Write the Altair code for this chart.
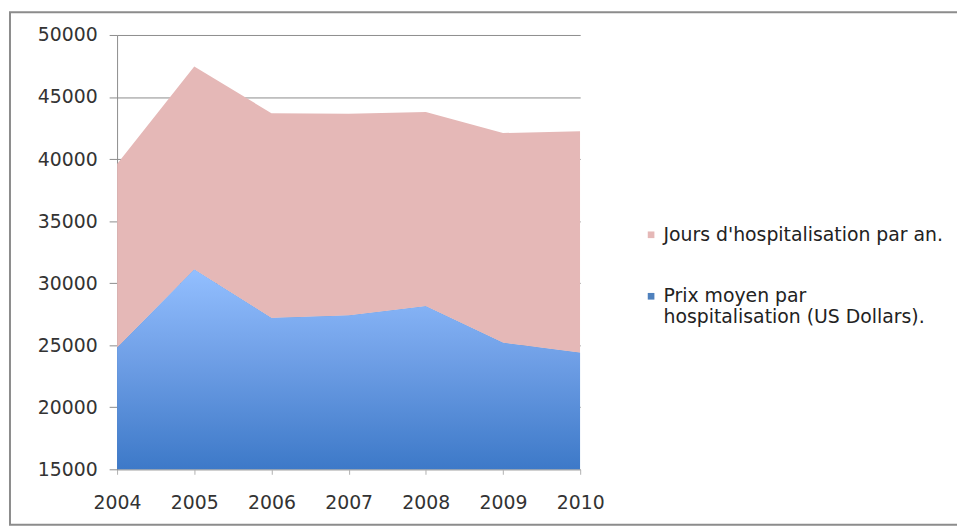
import json
import altair as alt
import pandas as pd

YEARS = [2004, 2005, 2006, 2007, 2008, 2009, 2010]
PRIX = [24800, 31100, 27200, 27400, 28150, 25200, 24400]
JOURS = [14800, 16350, 16500, 16250, 15650, 16900, 17850]
SERIES = ["Jours d'hospitalisation par an.", "Prix moyen par hospitalisation (US Dollars)."]
PRIX_LINES = ["Prix moyen par", "hospitalisation (US Dollars)."]
Y_TICKS = [15000, 20000, 25000, 30000, 35000, 40000, 45000, 50000]

PINK = "#e5b8b7"
BLUE_LEGEND = "#4f81bd"
FONT = "DejaVu Sans"

rows = []
for i, yr in enumerate(YEARS):
    rows.append({"year": yr, "series": SERIES[1], "value": PRIX[i], "ord": 0})
    rows.append({"year": yr, "series": SERIES[0], "value": JOURS[i], "ord": 1})
df = pd.DataFrame(rows)

label_expr = f"datum.label == {json.dumps(SERIES[1])} ? {json.dumps(PRIX_LINES)} : datum.label"

x_enc = alt.X("year:Q", scale=alt.Scale(domain=[YEARS[0], YEARS[-1]], nice=False),
              axis=alt.Axis(values=YEARS, format="d", title=None, grid=False,
                            tickSize=5, labelPadding=20, labelFlush=False,
                            domainColor="#b0b0b0", tickColor="#b0b0b0"))
y_scale = alt.Scale(domain=[15000, 50000], nice=False, zero=False)

stacked = alt.Chart(df).mark_area(clip=True).encode(
    x=x_enc,
    y=alt.Y("value:Q", stack="zero", scale=y_scale,
            axis=alt.Axis(values=Y_TICKS, format="d", title=None, tickSize=8,
                          labelPadding=12, labelFlush=False,
                          domainColor="#8c8c8c", tickColor="#8c8c8c",
                          gridColor="#8c8c8c")),
    color=alt.Color("series:N",
                    scale=alt.Scale(domain=SERIES, range=[PINK, BLUE_LEGEND]),
                    legend=alt.Legend(title=None, orient="none", legendX=529, legendY=192,
                                      symbolType="square", symbolSize=45,
                                      symbolOpacity=1, symbolStrokeWidth=0,
                                      labelFont=FONT, labelFontSize=19, labelColor="#222222",
                                      labelLimit=0, rowPadding=42, labelOffset=3,
                                      labelExpr=label_expr)),
    order=alt.Order("ord:Q"),
)

gradient = alt.Gradient(
    gradient="linear",
    stops=[alt.GradientStop(color="#93bfff", offset=0),
           alt.GradientStop(color="#6f9fe6", offset=0.45),
           alt.GradientStop(color="#3d79c8", offset=1)],
    x1=0, x2=0, y1=0, y2=1,
)

blue = alt.Chart(df).transform_filter(
    alt.datum.ord == 0
).mark_area(color=gradient, clip=True).encode(
    x=alt.X("year:Q"),
    y=alt.Y("value:Q", stack=None),
    y2=alt.datum(15000),
)

frame = alt.Chart(pd.DataFrame({"k": [0]})).mark_rect(
    fill=None, stroke="#8c8c8c", strokeWidth=2
).encode(
    x=alt.value(-108), x2=alt.value(880), y=alt.value(-23), y2=alt.value(494)
)

chart = alt.layer(stacked, blue, frame).properties(
    width=467, height=438,
    padding={"left": 110, "top": 25, "right": 380, "bottom": 60},
    autosize=alt.AutoSizeParams(type="none"),
    background="white",
).configure_view(stroke=None).configure_axis(
    labelFont=FONT, labelFontSize=19, labelColor="#333333"
)

chart.save("out.html", embed_options={"renderer": "svg", "actions": False})
